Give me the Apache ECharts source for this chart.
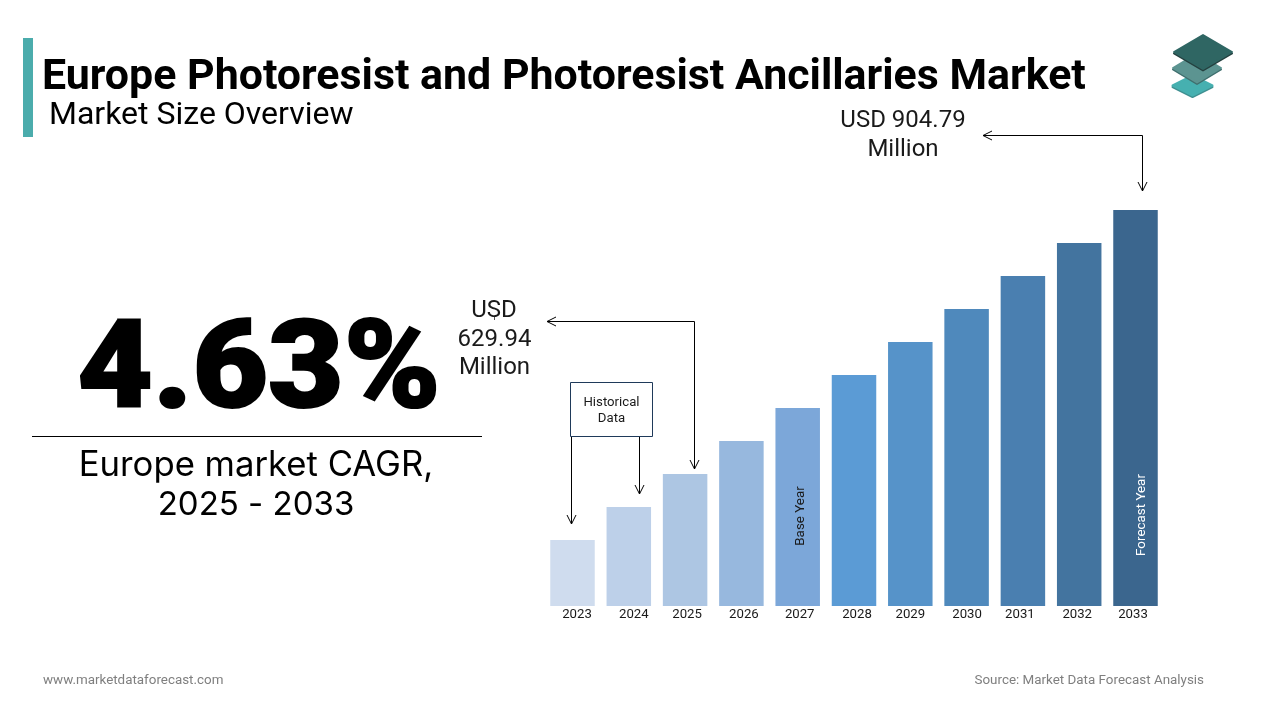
<!DOCTYPE html>
<html>
<head>
<meta charset="utf-8">
<title>Europe Photoresist and Photoresist Ancillaries Market</title>
<script src="https://cdn.jsdelivr.net/npm/echarts@6/dist/echarts.min.js"></script>
<style>
	html, body {margin: 0; padding: 0; background: #fff;}
	#chart {width: 1280px; height: 720px;}
</style>
</head>
<body>
<div id="chart"></div>
<script>
	var years = ["2023", "2024", "2025", "2026", "2027", "2028", "2029", "2030", "2031", "2032", "2033"];
	//bar heights as drawn in the picture, the bars are a schematic staircase
	var barValues = [66, 99, 132, 165, 198, 231, 264, 297, 330, 363, 396];
	var barColors = ["#cfdcee", "#bdd0e9", "#adc6e3", "#97b8de", "#7ca7d9", "#5b9bd5", "#5693c9", "#4f89bc", "#4a7fb0", "#43749f", "#3b668e"];
	//tick labels are not quite centred under the bars in the original
	var labelNudge = [4.5, 5, 2, 2.5, 2, 3, 0, 0.5, -3, -2, -2.5];

	var FONT = "Roboto";
	var chart = echarts.init(document.getElementById("chart"), null, {renderer: "canvas"});

	function text(x, y, str, font, color, align) {
		return {
			type: "text",
			style: {x: x, y: y, text: str, font: font, fill: color || "#000", textAlign: align || "left", textVerticalAlign: "middle"}
		};
	}
	function line(points, color) {
		return {
			type: "polyline",
			shape: {points: points},
			style: {stroke: color || "#000", lineWidth: 1, fill: null}
		};
	}
	function rhomb(cx, cy, w, h, color) {
		return {
			type: "polygon",
			shape: {points: [[cx, cy - h], [cx + w, cy], [cx, cy + h], [cx - w, cy]]},
			style: {fill: color, stroke: color, lineWidth: 2, lineJoin: "round"}
		};
	}
	//down, left open arrow heads
	function headDown(x, y) {
		return line([[x - 4.5, y - 9], [x, y], [x + 4.5, y - 9]]);
	}
	function headLeft(x, y) {
		return line([[x + 9, y - 4.5], [x, y], [x + 9, y + 4.5]]);
	}

	var graphics = [
		{type: "rect", shape: {x: 23, y: 38, width: 10, height: 99}, style: {fill: "#4bacac"}},
		text(42, 78, "Europe Photoresist and Photoresist Ancillaries Market", "bold 42.9px " + FONT),
		text(49, 116, "Market Size Overview", "32px " + FONT),

		rhomb(1192.5, 87, 20, 10, "#3f8f90"),
		rhomb(1192.5, 85.5, 20, 10, "#46b0b0"),
		rhomb(1197, 69.5, 24, 14.5, "#3f6f6e"),
		rhomb(1197, 68, 24, 14.5, "#5c9491"),
		rhomb(1203, 53.5, 29, 17, "#24403f"),
		rhomb(1203, 52, 29, 17, "#2f6663"),

		//wider and heavier than plain Roboto Black
		{
			type: "text",
			x: 259,
			y: 376,
			scaleX: 1.07,
			style: {x: 0, y: 0, text: "4.63%", font: "900 122px " + FONT, fill: "#000", stroke: "#000", lineWidth: 2, textAlign: "center", textVerticalAlign: "middle"}
		},
		line([[32, 436.5], [482, 436.5]]),
		text(256, 466, "Europe market CAGR,", "34.7px Inter", "#000", "center"),
		text(256, 505, "2025 - 2033", "33px Inter", "#000", "center"),

		text(903, 121, "USD 904.79", "24px " + FONT, "#1a1a1a", "center"),
		text(903, 150, "Million", "24px " + FONT, "#1a1a1a", "center"),
		line([[983, 135.5], [1142.5, 135.5], [1142.5, 191]]),
		headLeft(983, 135.5),
		headDown(1142.5, 191),

		text(494, 311, "USD", "24px " + FONT, "#1a1a1a", "center"),
		line([[494.5, 317], [494.5, 320]], "#555"),
		text(494.5, 340, "629.94", "24px " + FONT, "#1a1a1a", "center"),
		text(494.5, 368, "Million", "24px " + FONT, "#1a1a1a", "center"),
		line([[547, 321.5], [694.5, 321.5], [694.5, 469]]),
		headLeft(547, 321.5),
		headDown(694.5, 469),

		{type: "rect", shape: {x: 570.5, y: 382.5, width: 82, height: 54}, style: {fill: "#fff", stroke: "#1f3a5a", lineWidth: 1}},
		text(611.5, 403, "Historical", "13.2px " + FONT, "#1a1a1a", "center"),
		text(611.5, 419, "Data", "13.2px " + FONT, "#1a1a1a", "center"),
		line([[571.5, 437], [571.5, 524]]),
		headDown(571.5, 524),
		line([[639.5, 437], [639.5, 494]]),
		headDown(639.5, 494),

		text(43, 681, "www.marketdataforecast.com", "13.4px " + FONT, "#7f7f7f"),
		text(1204, 681, "Source: Market Data Forecast Analysis", "13.4px " + FONT, "#7f7f7f", "right")
	];

	var richLabels = {};
	years.forEach(function(year, index) {
		var nudge = labelNudge[index] * 2;
		richLabels["y" + index] = {
			fontFamily: FONT,
			fontSize: 13.2,
			color: "#1a1a1a",
			padding: nudge > 0 ? [0, 0, 0, nudge] : [0, -nudge, 0, 0]
		};
	});

	var seriesData = barValues.map(function(value, index) {
		var item = {value: value, itemStyle: {color: barColors[index]}};
		//offset turns with the label, so first number is along the text
		if(years[index] == "2027") {
			item.label = {show: true, formatter: "Base Year", position: "inside", rotate: 90, offset: [-9, 3], color: "#1a1a1a", fontFamily: FONT, fontSize: 13.4};
		}
		if(years[index] == "2033") {
			item.label = {show: true, formatter: "Forecast Year", position: "inside", rotate: 90, offset: [-107, 6.5], color: "#fff", fontFamily: FONT, fontSize: 13.4};
		}
		return item;
	});

	chart.setOption({
		animation: false,
		backgroundColor: "#fff",
		grid: {left: 544.35, right: 116.35, top: 210, bottom: 114, containLabel: false},
		xAxis: {
			type: "category",
			data: years,
			axisLine: {show: false},
			axisTick: {show: false},
			axisLabel: {
				interval: 0,
				margin: 2,
				formatter: function(value, index) {
					return "{y" + index + "|" + value + "}";
				},
				rich: richLabels
			}
		},
		yAxis: {type: "value", min: 0, max: 396, show: false},
		series: [{
			type: "bar",
			barWidth: 44.5,
			data: seriesData,
			z: 1
		}],
		graphic: graphics
	});
</script>
</body>
</html>
